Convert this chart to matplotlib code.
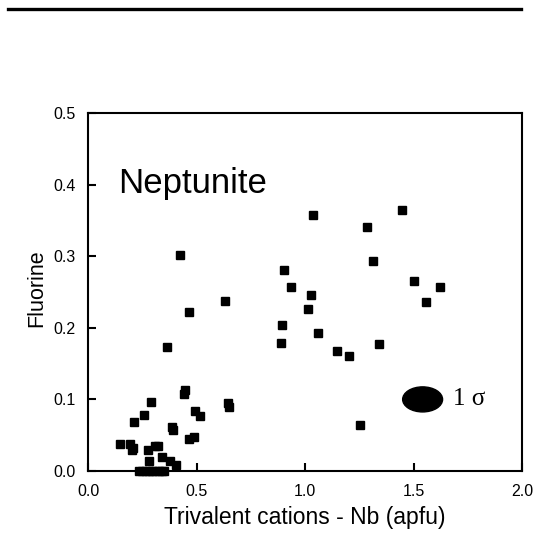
import matplotlib
matplotlib.use("Agg")
import matplotlib.pyplot as plt
from matplotlib.patches import Ellipse
from matplotlib.lines import Line2D

plt.rcParams['font.family'] = ['Liberation Sans', 'DejaVu Sans']

# data
x_low = [0.147, 0.194, 0.209, 0.201, 0.214, 0.256, 0.289, 0.278, 0.309, 0.324,
         0.283, 0.339, 0.378, 0.404, 0.386, 0.390, 0.443, 0.447, 0.465, 0.489,
         0.495, 0.516, 0.645, 0.648]
y_low = [0.038, 0.038, 0.032, 0.030, 0.068, 0.078, 0.096, 0.030, 0.035, 0.035,
         0.014, 0.020, 0.014, 0.009, 0.062, 0.057, 0.108, 0.113, 0.044, 0.048,
         0.084, 0.077, 0.095, 0.089]
x_zero = [0.235, 0.250, 0.265, 0.280, 0.295, 0.310, 0.325, 0.340, 0.350]
y_zero = [0.0, 0.0, 0.0, 0.0, 0.0, 0.0, 0.0, 0.0, 0.0]
x_high = [0.363, 0.424, 0.467, 0.633, 0.892, 0.888, 0.903, 0.934, 1.014, 1.028,
          1.035, 1.060, 1.149, 1.204, 1.255, 1.284, 1.312, 1.343, 1.446, 1.504,
          1.558, 1.624]
y_high = [0.173, 0.302, 0.222, 0.238, 0.204, 0.179, 0.281, 0.257, 0.226, 0.246,
          0.358, 0.193, 0.167, 0.160, 0.064, 0.341, 0.293, 0.178, 0.365, 0.265,
          0.236, 0.257]
sigma_center = (1.542, 0.100)
sigma_width = 0.184
sigma_height = 0.035
x_ticks = [0.0, 0.5, 1.0, 1.5, 2.0]
x_ticklabels = ["0.0", "0.5", "1.0", "1.5", "2.0"]
y_ticks = [0.0, 0.1, 0.2, 0.3, 0.4, 0.5]
y_ticklabels = ["0.0", "0.1", "0.2", "0.3", "0.4", "0.5"]

fig = plt.figure(figsize=(5.38, 5.38), dpi=100)
ax = fig.add_axes([88/538, 1 - 471/538, (522-88)/538, (471-113)/538])

xs = x_low + x_zero + x_high
ys = y_low + y_zero + y_high
ax.plot(xs, ys, linestyle='none', marker='s', markersize=5.6,
        color='black', clip_on=False, zorder=3)

ax.add_patch(Ellipse(sigma_center, sigma_width, sigma_height, color='black'))
ax.text(1.682, 0.100, "1 σ", family=['Liberation Serif', 'DejaVu Serif'],
        fontsize=18, va='center', ha='left')

ax.text(0.14, 0.388, "Neptunite", fontsize=25, va='baseline', ha='left')

ax.set_xlim(0, 2.0)
ax.set_ylim(0, 0.5)
ax.set_xticks(x_ticks)
ax.set_xticklabels(x_ticklabels)
ax.set_yticks(y_ticks)
ax.set_yticklabels(y_ticklabels)
ax.tick_params(direction='in', length=6, width=1.5, labelsize=11.5, pad=9)
for s in ax.spines.values():
    s.set_linewidth(1.5)

ax.set_xlabel("Trivalent cations - Nb (apfu)", fontsize=16.5)
ax.set_ylabel("Fluorine", fontsize=15.5)
ax.xaxis.set_label_coords(0.5, -0.098)
ax.yaxis.set_label_coords(-0.093, 0.51)

fig.add_artist(Line2D([8/538, 521/538], [1 - 9/538, 1 - 9/538],
                      color='black', linewidth=2.4))

fig.savefig("out.png", dpi=100)
